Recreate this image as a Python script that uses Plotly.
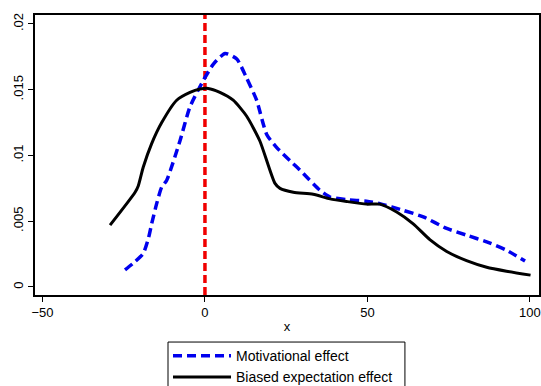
import plotly.graph_objects as go

# Motivational effect (blue dashed)
mot_x = [-24.6, -22.1, -19.0, -17.4, -16.4, -14.9, -13.3, -11.8, -7.7, -4.6, -0.5, 2.6, 6.2, 9.8,
         12.8, 15.9, 19.0, 22.1, 26.2, 29.2, 35.4, 38.5, 43.6, 49.7, 53.8, 61.0, 67.2, 74.4,
         80.5, 86.7, 92.8, 98.5]
mot_y = [0.0013, 0.0018, 0.00255, 0.0037, 0.0048, 0.0063, 0.0076, 0.0081, 0.0111, 0.0137, 0.0157,
         0.01695, 0.01775, 0.01733, 0.0159, 0.0142, 0.0116, 0.0106, 0.0096, 0.0089, 0.00735,
         0.00684, 0.00664, 0.00652, 0.00634, 0.00583, 0.00533, 0.00445, 0.00394, 0.00343,
         0.0028, 0.00197]

# Biased expectation effect (black solid)
bias_x = [-29.2, -21.5, -20.5, -19.0, -16.4, -13.3, -8.7, -4.6, -1.5, 1.0, 4.6, 8.7, 12.8, 16.9,
          21.5, 23.1, 27.2, 33.3, 38.5, 43.6, 49.7, 53.8, 59.0, 64.1, 69.2, 74.4, 80.5, 86.7,
          92.8, 100.2]
bias_y = [0.0047, 0.0072, 0.0077, 0.0091, 0.0109, 0.0125, 0.0142, 0.0148, 0.01505, 0.0151, 0.0148,
          0.0142, 0.0130, 0.0111, 0.0079, 0.0075, 0.0072, 0.00705, 0.0067, 0.0065, 0.0063,
          0.0063, 0.0057, 0.0048, 0.0036, 0.0027, 0.0020, 0.0015, 0.0012, 0.0009]

x_ticks = [-50, 0, 50, 100]
y_ticks = [0, 0.005, 0.01, 0.015, 0.02]
y_tick_labels = ["0", ".005", ".01", ".015", ".02"]
ref_x = 0

x_range = [-52.3, 102.8]
y_range = [-0.00061, 0.02068]

font = "Arial, Liberation Sans, sans-serif"

fig = go.Figure()
fig.add_trace(go.Scatter(x=[ref_x, ref_x], y=y_range, mode="lines",
                         line=dict(color="#f00000", width=3.5, dash="8px,4px"),
                         showlegend=False, hoverinfo="skip"))
fig.add_trace(go.Scatter(x=mot_x, y=mot_y, mode="lines", name="Motivational effect",
                         line=dict(color="#0000ee", width=3.5, dash="9px,5px",
                                   shape="spline", smoothing=0.6)))
fig.add_trace(go.Scatter(x=bias_x, y=bias_y, mode="lines", name="Biased expectation effect",
                         line=dict(color="black", width=3, shape="spline", smoothing=0.6)))

# legend frame (Stata-style box, wider than the entries)
fig.add_shape(type="rect", xref="paper", yref="paper", x0=0.2639, x1=0.734,
              y0=-0.40, y1=-0.168, line=dict(color="black", width=1), fillcolor="rgba(0,0,0,0)",
              layer="above")

fig.update_layout(
    width=541, height=386,
    margin=dict(l=35, r=2, t=15, b=91, autoexpand=False),
    paper_bgcolor="white", plot_bgcolor="white",
    font=dict(family=font, size=13, color="black"),
    legend=dict(x=0.2639, y=-0.161, xanchor="left", yanchor="top",
                borderwidth=0, bgcolor="rgba(0,0,0,0)",
                font=dict(size=14), itemwidth=58, tracegroupgap=0),
    xaxis=dict(range=x_range, tickvals=x_ticks, ticks="outside", ticklen=5,
               tickcolor="black", showline=True, mirror=True, linecolor="black",
               linewidth=1.5, showgrid=False, zeroline=False, automargin=False,
               title=dict(text="x", font=dict(size=13), standoff=3)),
    yaxis=dict(range=y_range, tickvals=y_ticks, ticktext=y_tick_labels, ticks="outside",
               ticklen=5, tickcolor="black", showline=True, mirror=True, linecolor="black",
               linewidth=1.5, showgrid=False, zeroline=False, tickangle=-90, automargin=False),
)

fig.write_html("out.html", config={"displayModeBar": False},
               post_script="document.body.style.margin='0';document.body.style.overflow='hidden';")
